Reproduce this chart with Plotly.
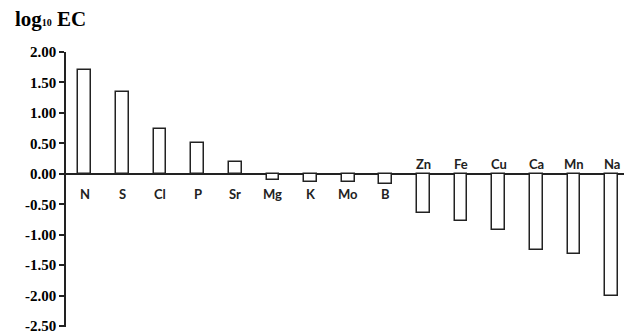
import plotly.graph_objects as go

elements = ["N", "S", "Cl", "P", "Sr", "Mg", "K", "Mo", "B", "Zn", "Fe", "Cu", "Ca", "Mn", "Na"]
log_ec = [1.70, 1.35, 0.74, 0.50, 0.19, -0.10, -0.14, -0.13, -0.16, -0.65, -0.78, -0.92, -1.25, -1.31, -2.00]
label_above = [False] * 9 + [True] * 6
y_ticks = [2.0, 1.5, 1.0, 0.5, 0.0, -0.5, -1.0, -1.5, -2.0, -2.5]

x_idx = list(range(len(elements)))

fig = go.Figure()
fig.add_trace(go.Bar(
    x=x_idx, y=log_ec, width=0.34,
    marker=dict(color="white", line=dict(color="#222222", width=1.5)),
    showlegend=False,
))

for i, (el, above) in enumerate(zip(elements, label_above)):
    fig.add_annotation(
        x=i, y=0, xref="x", yref="y", text=el, showarrow=False,
        yshift=10 if above else -20,
        font=dict(family="Lato", size=13, color="#222222", weight="bold"),
    )

fig.add_annotation(
    x=(13 - 66) / 558, y=1 + (52 - 19) / 274, xref="paper", yref="paper",
    xanchor="left", yanchor="middle",
    text="log<span style='font-size:10px'>10</span> EC", showarrow=False,
    font=dict(family="Liberation Serif", size=21, color="black", weight="bold"),
)

fig.update_layout(
    width=624, height=332,
    margin=dict(l=66, r=0, t=52, b=5),
    plot_bgcolor="white", paper_bgcolor="white",
    bargap=0,
    xaxis=dict(range=[-0.5, 14.33], showticklabels=False, showgrid=False,
               zeroline=False, showline=False, ticks="", automargin=False),
    yaxis=dict(range=[-2.515, 2.0], tickvals=y_ticks, automargin=False,
               ticktext=[f"{v:.2f}" for v in y_ticks], ticklabeloverflow="allow",
               showgrid=False, showline=True, linecolor="#222222", linewidth=1.5,
               ticks="outside", ticklen=5, tickwidth=1.5, tickcolor="#222222",
               zeroline=True, zerolinecolor="#222222", zerolinewidth=1.5,
               tickfont=dict(family="Liberation Serif", size=15, color="black", weight="bold")),
)

fig.write_html("out.html", config={"displayModeBar": False},
               post_script="document.body.style.margin='0';document.body.style.overflow='hidden';")
